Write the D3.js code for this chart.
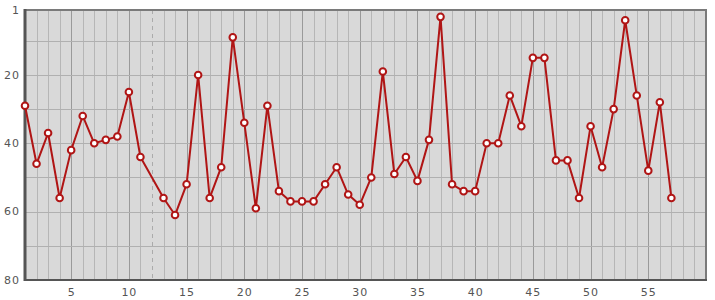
<!DOCTYPE html>
<html>
<head>
<meta charset="utf-8">
<script src="https://cdn.jsdelivr.net/npm/d3@7"></script>
<style>
  body { margin: 0; background: #fff; }
  text { font-family: "DejaVu Sans", Verdana, sans-serif; font-size: 11px; fill: #555; letter-spacing: 1px; }
</style>
</head>
<body>
<div id="chart"></div>
<script>
// positions 1..57, position 12 has no value
const positions = [1,2,3,4,5,6,7,8,9,10,11,12,13,14,15,16,17,18,19,20,
                   21,22,23,24,25,26,27,28,29,30,31,32,33,34,35,36,37,38,39,40,
                   41,42,43,44,45,46,47,48,49,50,51,52,53,54,55,56,57];
const ranks = [29,46,37,56,42,32,40,39,38,25,44,null,56,61,52,20,56,47,9,34,
               59,29,54,57,57,57,52,47,55,58,50,19,49,44,51,39,3,52,54,54,
               40,40,26,35,15,15,45,45,56,35,47,30,4,26,48,28,56];
const xTicks = [5,10,15,20,25,30,35,40,45,50,55];
const yTicks = [1,20,40,60,80];
const yGrid = [10,20,30,40,50,60,70];
const gapAt = 12;

const data = positions.map((p, i) => ({pos: p, rank: ranks[i]}));

const margin = {top: 10, right: 9, bottom: 20, left: 25},
      width = 715 - margin.left - margin.right,
      height = 300 - margin.top - margin.bottom;

const svg = d3.select("#chart").append("svg")
    .attr("width", width + margin.left + margin.right)
    .attr("height", height + margin.top + margin.bottom)
  .append("g")
    .attr("transform", `translate(${margin.left},${margin.top})`);

const x = d3.scaleLinear().domain([1, 60]).range([0, width]);
const y = d3.scaleLinear().domain([1, 80]).range([0, height]);

// plot background
svg.append("rect")
    .attr("width", width)
    .attr("height", height)
    .attr("fill", "#d9d9d9");

// vertical grid, every position, darker every 5
svg.append("g")
  .selectAll("line")
  .data(d3.range(2, 60).filter(v => v !== gapAt))
  .join("line")
    .attr("x1", d => Math.round(x(d)) + 0.5)
    .attr("x2", d => Math.round(x(d)) + 0.5)
    .attr("y1", 0)
    .attr("y2", height)
    .attr("stroke", d => d % 5 === 0 ? "#9a9a9a" : "#b6b6b6")
    .attr("stroke-width", 1);

// horizontal grid
svg.append("g")
  .selectAll("line")
  .data(yGrid)
  .join("line")
    .attr("x1", 0)
    .attr("x2", width)
    .attr("y1", d => Math.round(y(d)) + 0.5)
    .attr("y2", d => Math.round(y(d)) + 0.5)
    .attr("stroke", "#b0b0b0")
    .attr("stroke-width", 1);

// dashed marker for the missing position
svg.append("line")
    .attr("x1", Math.round(x(gapAt)) + 0.5)
    .attr("x2", Math.round(x(gapAt)) + 0.5)
    .attr("y1", 0)
    .attr("y2", height)
    .attr("stroke", "#ababab")
    .attr("stroke-dasharray", "4,4");

// frame
svg.append("rect")
    .attr("width", width)
    .attr("height", height)
    .attr("fill", "none")
    .attr("stroke", "#7a7a7a")
    .attr("stroke-width", 2);

// left and bottom axis lines
svg.append("line")
    .attr("x1", 0).attr("x2", 0)
    .attr("y1", -1).attr("y2", height + 1)
    .attr("stroke", "#555")
    .attr("stroke-width", 3);
svg.append("line")
    .attr("x1", 0).attr("x2", width + 1)
    .attr("y1", height).attr("y2", height)
    .attr("stroke", "#555")
    .attr("stroke-width", 2);

// tick labels
svg.append("g")
  .selectAll("text")
  .data(xTicks)
  .join("text")
    .attr("x", d => x(d) + 0.5)
    .attr("y", height + 15.5)
    .attr("text-anchor", "middle")
    .text(d => d);

svg.append("g")
  .selectAll("text")
  .data(yTicks)
  .join("text")
    .attr("x", -5)
    .attr("y", d => y(d))
    .attr("dy", "0.35em")
    .attr("text-anchor", "end")
    .text(d => d);

// line, bridging the missing position
const line = d3.line()
    .x(d => x(d.pos))
    .y(d => y(d.rank));

svg.append("path")
    .datum(data.filter(d => d.rank !== null))
    .attr("d", line)
    .attr("fill", "none")
    .attr("stroke", "#b01515")
    .attr("stroke-width", 2)
    .attr("stroke-linejoin", "round");

svg.append("g")
  .selectAll("circle")
  .data(data.filter(d => d.rank !== null))
  .join("circle")
    .attr("cx", d => x(d.pos))
    .attr("cy", d => y(d.rank))
    .attr("r", 3.3)
    .attr("fill", "#fff")
    .attr("stroke", "#b01515")
    .attr("stroke-width", 2);
</script>
</body>
</html>
